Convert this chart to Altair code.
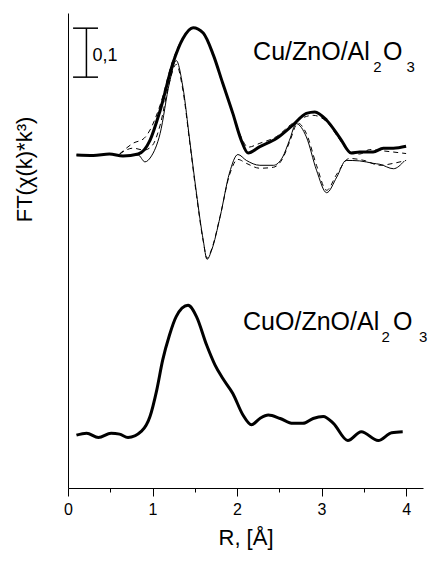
import altair as alt
import pandas as pd

# ---- Cu/ZnO/Al2O3 : |FT| experimental (thick) ----
R_cu_mag = [0.10, 0.30, 0.49, 0.65, 0.83, 0.97, 1.09, 1.24, 1.36, 1.48, 1.60, 1.72, 1.83, 1.95,
            2.05, 2.13, 2.27, 2.47, 2.66, 2.82, 2.92, 3.06, 3.22, 3.35, 3.45, 3.61, 3.73, 3.85, 4.00]
FT_cu_mag = [0.680, 0.679, 0.682, 0.678, 0.682, 0.710, 0.771, 0.867, 0.918, 0.940, 0.929, 0.884, 0.827, 0.765,
             0.710, 0.684, 0.697, 0.714, 0.741, 0.765, 0.768, 0.751, 0.714, 0.684, 0.686, 0.686, 0.694, 0.694, 0.698]

# ---- Cu/ZnO/Al2O3 : Im FT experimental (thin) ----
R_cu_im = [0.10, 0.30, 0.49, 0.65, 0.83, 0.91, 0.98, 1.09, 1.20, 1.28, 1.36, 1.44, 1.52, 1.60, 1.645,
           1.70, 1.80, 1.91, 2.01, 2.11, 2.27, 2.43, 2.54, 2.62, 2.70, 2.82, 2.94, 3.06, 3.18, 3.29,
           3.45, 3.61, 3.69, 3.85, 3.98]
FT_cu_im = [0.680, 0.679, 0.682, 0.678, 0.680, 0.666, 0.676, 0.724, 0.827, 0.873, 0.818, 0.710, 0.602, 0.506, 0.467,
            0.486, 0.554, 0.643, 0.681, 0.669, 0.659, 0.659, 0.676, 0.710, 0.744, 0.717, 0.649, 0.603, 0.635, 0.669,
            0.668, 0.663, 0.661, 0.652, 0.668]

# ---- Cu/ZnO/Al2O3 : |FT| fit (dashed) ----
R_fit_mag = [0.61, 0.77, 0.90, 0.97, 1.09, 1.24, 1.36, 1.48, 1.60, 1.72, 1.83, 1.95, 2.05, 2.13, 2.27,
             2.47, 2.66, 2.90, 3.06, 3.22, 3.33, 3.45, 3.57, 3.75, 4.00]
FT_fit_mag = [0.682, 0.704, 0.714, 0.731, 0.782, 0.873, 0.920, 0.939, 0.927, 0.882, 0.824, 0.765, 0.716, 0.696, 0.704,
              0.718, 0.745, 0.761, 0.748, 0.710, 0.686, 0.682, 0.691, 0.688, 0.683]

# ---- Cu/ZnO/Al2O3 : Im FT fit (dashed) ----
R_fit_im = [0.61, 0.77, 0.90, 1.00, 1.09, 1.20, 1.28, 1.36, 1.44, 1.52, 1.60, 1.645, 1.70, 1.80, 1.91,
            2.01, 2.11, 2.27, 2.43, 2.54, 2.62, 2.72, 2.82, 2.94, 3.06, 3.18, 3.33, 3.50, 3.69, 3.85, 4.00]
FT_fit_im = [0.682, 0.694, 0.690, 0.700, 0.741, 0.829, 0.865, 0.812, 0.706, 0.598, 0.504, 0.469, 0.488, 0.555, 0.639,
             0.671, 0.663, 0.653, 0.655, 0.673, 0.706, 0.745, 0.724, 0.659, 0.608, 0.641, 0.673, 0.669, 0.659, 0.663, 0.669]

# ---- CuO/ZnO/Al2O3 : |FT| experimental (thick) ----
R_cuo = [0.10, 0.22, 0.36, 0.51, 0.61, 0.71, 0.87, 0.97, 1.05, 1.12, 1.20, 1.28, 1.42, 1.52, 1.64, 1.74,
         1.83, 1.95, 2.07, 2.17, 2.27, 2.37, 2.51, 2.66, 2.78, 2.90, 3.02, 3.14, 3.31, 3.47, 3.67, 3.83, 3.96]
FT_cuo = [0.108, 0.112, 0.103, 0.112, 0.110, 0.103, 0.116, 0.146, 0.200, 0.261, 0.312, 0.350, 0.373, 0.350, 0.292, 0.251,
          0.224, 0.193, 0.149, 0.129, 0.142, 0.149, 0.142, 0.132, 0.132, 0.142, 0.146, 0.132, 0.097, 0.115, 0.097, 0.113, 0.115]

# ---- annotations ----
bar_R = [0.218]
bar_low = [0.839]
bar_high = [0.939]
cap_left = [0.06]
cap_right = [0.355]
bar_label = ["0,1"]
bar_label_R = [0.289]
bar_label_FT = [0.872]

label_text = ["Cu/ZnO/Al", "O", "CuO/ZnO/Al", "O"]
label_R = [2.19, 3.728, 2.071, 3.846]
label_FT = [0.874, 0.874, 0.322, 0.322]
sub_text = ["2", "3", "2", "3"]
sub_R = [3.61, 4.005, 3.709, 4.154]
sub_FT = [0.850, 0.850, 0.299, 0.299]

x_ticks = [0, 0.5, 1, 1.5, 2, 2.5, 3, 3.5, 4]

FONT = "Liberation Sans"


def frame(r, v):
    return pd.DataFrame({"R": r, "FT": v})


x_enc = alt.X(
    "R:Q",
    scale=alt.Scale(domain=[0, 4.2], nice=False, zero=False),
    axis=alt.Axis(
        values=x_ticks,
        labelExpr="datum.value % 1 === 0 ? format(datum.value, 'd') : ''",
        tickSize={"condition": {"test": "datum.value % 1 === 0", "value": 8}, "value": 4},
        tickColor="black",
        tickWidth=1,
        domainColor="black",
        domainWidth=1,
        labelFont=FONT,
        labelFontSize=16,
        labelColor="black",
        labelPadding=5,
        labelFlush=False,
        grid=False,
        title="R, [Å]",
        titleFont=FONT,
        titleFontSize=22,
        titleFontWeight="normal",
        titleColor="black",
        titlePadding=10,
    ),
)
y_enc = alt.Y(
    "FT:Q",
    scale=alt.Scale(domain=[0, 0.97], nice=False, zero=False),
    axis=alt.Axis(
        ticks=False,
        labels=False,
        grid=False,
        domainColor="black",
        domainWidth=1,
        title="FT(χ(k)*k³)",
        titleFont=FONT,
        titleFontSize=22,
        titleFontWeight="normal",
        titleColor="black",
        titleAngle=270,
        titleAlign="center",
        titleBaseline="alphabetic",
        titleX=-37,
        titleY=156,
    ),
)


def line(r, v, width, dash=None):
    kw = dict(color="black", strokeWidth=width, interpolate="monotone", clip=False)
    if dash:
        kw["strokeDash"] = dash
    return alt.Chart(frame(r, v)).mark_line(**kw).encode(x=x_enc, y=y_enc)


fit_mag = line(R_fit_mag, FT_fit_mag, 1, [5, 4])
fit_im = line(R_fit_im, FT_fit_im, 1, [5, 4])
cu_im = line(R_cu_im, FT_cu_im, 1)
cu_mag = line(R_cu_mag, FT_cu_mag, 3)
cuo = line(R_cuo, FT_cuo, 3)

bar_df = pd.DataFrame({"R": bar_R, "lo": bar_low, "hi": bar_high,
                       "cl": cap_left, "cr": cap_right})
bar_v = alt.Chart(bar_df).mark_rule(color="black", strokeWidth=1.5).encode(
    x=alt.X("R:Q"), y=alt.Y("lo:Q"), y2="hi:Q")
cap_top = alt.Chart(bar_df).mark_rule(color="black", strokeWidth=1.5).encode(
    x=alt.X("cl:Q"), x2="cr:Q", y=alt.Y("hi:Q"))
cap_bot = alt.Chart(bar_df).mark_rule(color="black", strokeWidth=1.5).encode(
    x=alt.X("cl:Q"), x2="cr:Q", y=alt.Y("lo:Q"))
bar_txt = alt.Chart(pd.DataFrame({"R": bar_label_R, "FT": bar_label_FT, "t": bar_label})).mark_text(
    font=FONT, fontSize=18, align="left", baseline="alphabetic", color="black").encode(
    x="R:Q", y="FT:Q", text="t:N")

lab = alt.Chart(pd.DataFrame({"R": label_R, "FT": label_FT, "t": label_text})).mark_text(
    font=FONT, fontSize=25, align="left", baseline="alphabetic", color="black").encode(
    x="R:Q", y="FT:Q", text="t:N")
sub = alt.Chart(pd.DataFrame({"R": sub_R, "FT": sub_FT, "t": sub_text})).mark_text(
    font=FONT, fontSize=15, align="left", baseline="alphabetic", color="black").encode(
    x="R:Q", y="FT:Q", text="t:N")

chart = alt.layer(
    fit_mag, fit_im, cu_im, cu_mag, cuo, bar_v, cap_top, cap_bot, bar_txt, lab, sub
).properties(
    width=355,
    height=475,
    autosize=alt.AutoSizeParams(type="none"),
    padding={"left": 68, "top": 13, "right": 8, "bottom": 75},
    background="white",
).configure_view(stroke=None)

chart.save("out.html", embed_options={"renderer": "svg", "actions": False})
